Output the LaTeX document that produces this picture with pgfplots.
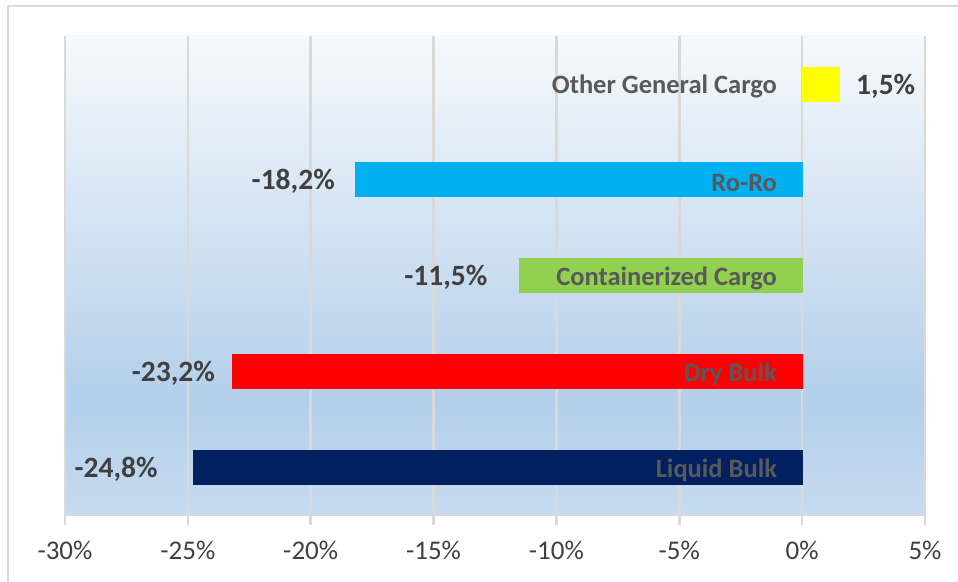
\documentclass[border=0pt]{standalone}
\usepackage{pgfplots}
\pgfplotsset{compat=1.18}
\usepackage{fontspec}
\setmainfont{Carlito}
\definecolor{gridc}{HTML}{D9D9D9}
\definecolor{labc}{HTML}{595959}
\definecolor{valc}{HTML}{404040}
\definecolor{cOther}{HTML}{FFFF00}
\definecolor{cRoRo}{HTML}{00B0F0}
\definecolor{cCont}{HTML}{92D050}
\definecolor{cDry}{HTML}{FF0000}
\definecolor{cLiq}{HTML}{002060}
\definecolor{bgtop}{RGB}{246,249,252}
\definecolor{bgmid}{RGB}{179,207,234}
\definecolor{bgbot}{RGB}{198,219,240}
\pgfdeclareverticalshading{plotbg}{100bp}{color(0bp)=(bgbot); color(25bp)=(bgbot); color(37bp)=(bgmid); color(75bp)=(bgtop); color(100bp)=(bgtop)}
\begin{document}
\begin{tikzpicture}
\path[use as bounding box] (-65pt,-66pt) rectangle (893pt,515pt);
\draw[gridc, line width=2pt] (-57pt,-70pt) -- (-57pt,509pt) -- (900pt,509pt);
\begin{axis}[
  at={(0,0)}, anchor=south west,
  width=860pt, height=479pt, scale only axis,
  xmin=-30, xmax=5, ymin=-0.5, ymax=4.5,
  xtick={-30,-25,...,5}, ytick=\empty,
  axis background/.style={shading=plotbg},
  axis y line=none, axis x line*=bottom,
  x axis line style={gridc, line width=2.5pt, -},
  xmajorgrids, major grid style={gridc, line width=2.5pt},
  major tick length=10pt, xtick align=outside,
  every tick/.style={gridc, line width=2.5pt},
  /pgf/number format/assume math mode=true,
  xticklabel={\pgfmathprintnumber{\tick}\%},
  xticklabel style={font=\fontsize{27}{30}\selectfont, text=valc, inner sep=0pt, yshift=-16pt},
  clip=false,
  bar width=34pt,
  valstyle/.style={nodes near coords={\pgfmathprintnumber[fixed,fixed zerofill,precision=1,use comma]{\pgfplotspointmeta}\%},
    every node near coord/.style={font=\fontsize{29.5}{32}\selectfont\bfseries, text=valc, inner sep=0pt, anchor=east, yshift=-2pt}},
]
\addplot[xbar, bar shift=0pt, fill=cLiq, draw=cLiq, valstyle, every node near coord/.append style={xshift=-35pt}] coordinates {(-24.8,0)};
\addplot[xbar, bar shift=0pt, fill=cDry, draw=cDry, valstyle, every node near coord/.append style={xshift=-17pt}] coordinates {(-23.2,1)};
\addplot[xbar, bar shift=0pt, fill=cCont, draw=cCont, valstyle, every node near coord/.append style={xshift=-32pt}] coordinates {(-11.5,2)};
\addplot[xbar, bar shift=0pt, fill=cRoRo, draw=cRoRo, valstyle, every node near coord/.append style={xshift=-20pt}] coordinates {(-18.2,3)};
\addplot[xbar, bar shift=0pt, fill=cOther, draw=cOther, valstyle, every node near coord/.append style={anchor=west, xshift=17pt}] coordinates {(1.5,4)};
\addplot[draw=none, mark=none, point meta=explicit symbolic, nodes near coords,
  every node near coord/.style={font=\fontsize{26.5}{30}\selectfont\bfseries, text=labc, inner sep=0pt, anchor=east, xshift=-25pt, yshift=-3pt}]
  coordinates {(0,0) [Liquid Bulk] (0,1) [Dry Bulk] (0,2) [Containerized Cargo] (0,3) [Ro-Ro] (0,4) [Other General Cargo]};
\end{axis}
\end{tikzpicture}
\end{document}
